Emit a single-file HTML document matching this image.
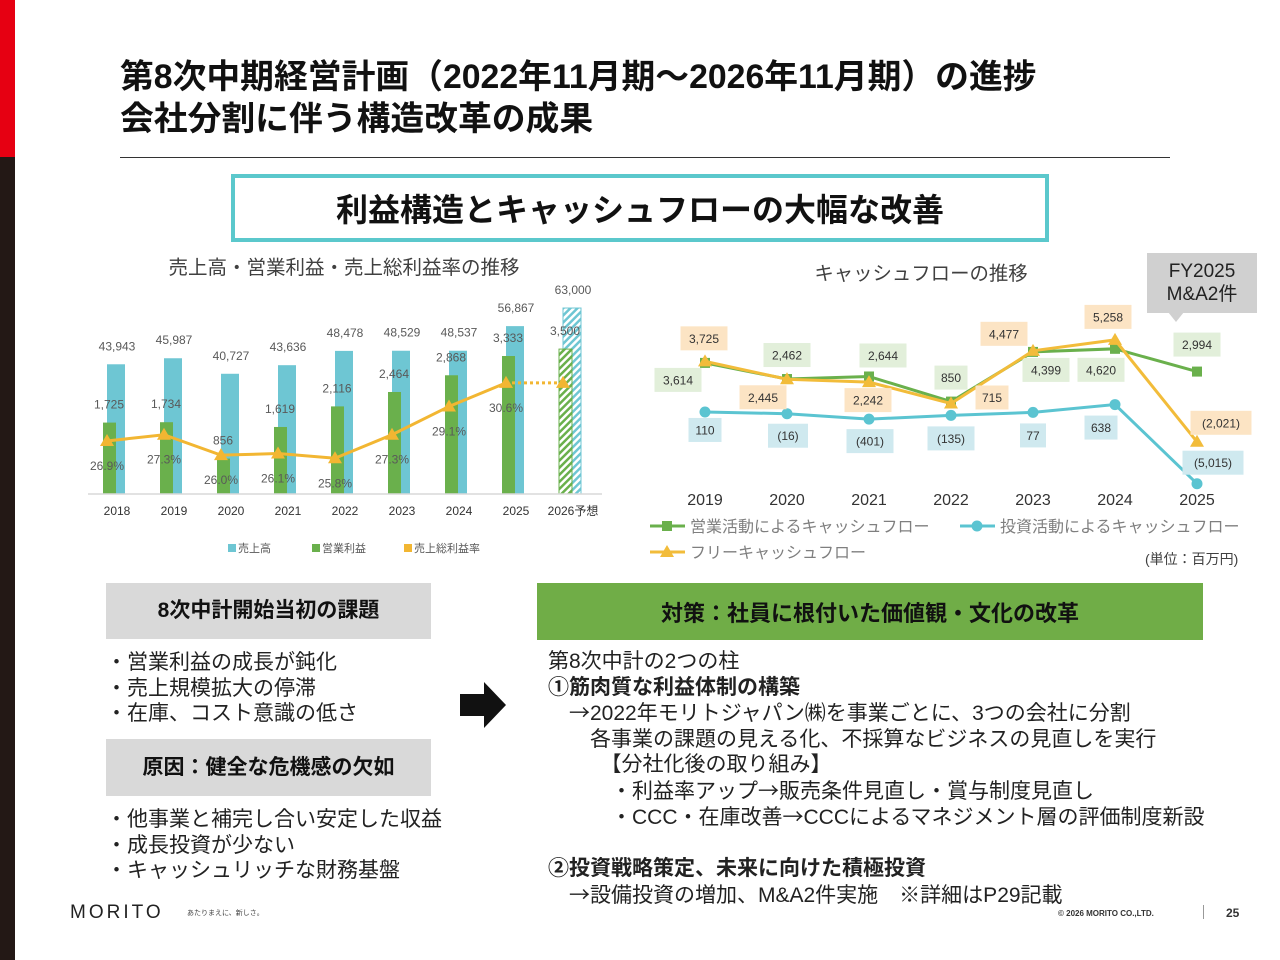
<!DOCTYPE html>
<html lang="ja"><head><meta charset="utf-8">
<style>
*{margin:0;padding:0;box-sizing:border-box}
body{width:1280px;height:960px;position:relative;background:#fff;overflow:hidden;font-family:"Liberation Sans","Noto Sans CJK JP",sans-serif;color:#222}
.abs{position:absolute;white-space:nowrap}
.title{font-weight:bold;font-size:33.8px;color:#111;line-height:42px}
.box{position:absolute;display:flex;align-items:center;justify-content:center;font-weight:bold}
.t20{font-size:21px;line-height:25.5px}
.ar{font-family:"Noto Sans CJK JP",sans-serif}
svg text{font-family:"Liberation Sans","Noto Sans CJK JP",sans-serif}
</style></head><body>
<div class="abs" style="left:0;top:0;width:15px;height:157px;background:#e60012"></div>
<div class="abs" style="left:0;top:157px;width:15px;height:803px;background:#231815"></div>
<div class="abs title" style="left:120px;top:56px">第8次中期経営計画（2022年11月期～2026年11月期）の進捗<br>会社分割に伴う構造改革の成果</div>
<div class="abs" style="left:120px;top:157px;width:1050px;height:1px;background:#333"></div>
<div class="box" style="left:231px;top:174px;width:818px;height:68px;border:4px solid #5bc8cc;font-size:32px;color:#111">利益構造とキャッシュフローの大幅な改善</div>

<svg id="charts" class="abs" style="left:0;top:0" width="1280" height="600">
<defs>
<pattern id="hatchB" width="5" height="5" patternUnits="userSpaceOnUse" patternTransform="rotate(45)"><rect width="5" height="5" fill="#fff"/><rect width="2.5" height="5" fill="#6ec6d3"/></pattern>
<pattern id="hatchG" width="5" height="5" patternUnits="userSpaceOnUse" patternTransform="rotate(45)"><rect width="5" height="5" fill="#fff"/><rect width="2.5" height="5" fill="#6ab04c"/></pattern>
</defs>
<g id="left"></g><g id="right"></g>
</svg>

<div class="abs" style="left:1147px;top:253px;width:110px;height:60px;background:#d0d0d0;font-size:19px;line-height:23px;text-align:center;padding-top:7px;color:#222">FY2025<br>M&amp;A2件</div>
<svg class="abs" style="left:1160px;top:312px" width="30" height="12"><polygon points="8,0 24,0 16,10" fill="#d0d0d0"/></svg>

<div class="box t20" style="left:106px;top:583px;width:325px;height:56px;background:#d9d9d9;color:#111">8次中計開始当初の課題</div>
<div class="abs t20" style="left:106px;top:650px">・営業利益の成長が鈍化<br>・売上規模拡大の停滞<br>・在庫、コスト意識の低さ</div>
<div class="box t20" style="left:106px;top:739px;width:325px;height:57px;background:#d9d9d9;color:#111">原因：健全な危機感の欠如</div>
<div class="abs t20" style="left:106px;top:807px">・他事業と補完し合い安定した収益<br>・成長投資が少ない<br>・キャッシュリッチな財務基盤</div>
<svg class="abs" style="left:458px;top:680px" width="50" height="50"><polygon points="2,14 26,14 26,2 48,25 26,48 26,36 2,36" fill="#111"/></svg>
<div class="box" style="left:537px;top:583px;width:666px;height:57px;background:#70ad47;color:#111;font-size:22px">対策：社員に根付いた価値観・文化の改革</div>
<div class="abs t20" style="left:548px;top:649px;line-height:25.5px">第8次中計の2つの柱<br><b>①筋肉質な利益体制の構築</b><br>　<span class="ar">→</span>2022年モリトジャパン㈱を事業ごとに、3つの会社に分割<br>　　各事業の課題の見える化、不採算なビジネスの見直しを実行<br>　　　【分社化後の取り組み】<br>　　　・利益率アップ<span class="ar">→</span>販売条件見直し・賞与制度見直し<br>　　　・CCC・在庫改善<span class="ar">→</span>CCCによるマネジメント層の評価制度新設<br><br><b>②投資戦略策定、未来に向けた積極投資</b><br>　<span class="ar">→</span>設備投資の増加、M&amp;A2件実施　※詳細はP29記載</div>

<div class="abs" style="left:70px;top:902px;font-size:19px;letter-spacing:3px;color:#222">MORITO</div>
<div class="abs" style="left:187px;top:908px;font-size:7px;color:#444">あたりまえに、新しさ。</div>
<div class="abs" style="left:1058px;top:909px;font-size:8px;font-weight:bold;color:#333">© 2026 MORITO CO.,LTD.</div>
<div class="abs" style="left:1203px;top:905px;width:1px;height:14px;background:#999"></div>
<div class="abs" style="left:1226px;top:906px;font-size:12px;font-weight:bold;color:#333">25</div>

<script>
// ---------- Left chart data ----------
const years = ["2018","2019","2020","2021","2022","2023","2024","2025","2026予想"];
const sales = [43943,45987,40727,43636,48478,48529,48537,56867,63000];
const opProfit = [1725,1734,856,1619,2116,2464,2868,3333,3500];
const grossMargin = [26.9,27.3,26.0,26.1,25.8,27.3,29.1,30.6,30.6];
// ---------- Right chart data ----------
const cfYears = ["2019","2020","2021","2022","2023","2024","2025"];
const opCF = [3614,2462,2644,850,4399,4620,2994];
const invCF = [110,-16,-401,-135,77,638,-5015];
const freeCF = [3725,2445,2242,715,4477,5258,-2021];

const NS="http://www.w3.org/2000/svg";
function mk(parent,tag,attrs,text){const e=document.createElementNS(NS,tag);for(const k in attrs)e.setAttribute(k,attrs[k]);if(text!==undefined)e.textContent=text;parent.appendChild(e);return e;}
const fmt=v=>v<0?"("+Math.abs(v).toLocaleString("en-US")+")":v.toLocaleString("en-US");

// ----- left chart -----
const L=document.getElementById("left");
const base=494;
const xL=i=>117+i*57;
const ySales=v=>base-v*0.002952;
const yOp=v=>base-v*0.0414;
const yPct=v=>441-(v-26.9)*15.7;
let t=mk(L,"text",{x:344,y:274,"font-size":19.5,"text-anchor":"middle",fill:"#404040"},"売上高・営業利益・売上総利益率の推移");


years.forEach((yr,i)=>{
  const c=xL(i), fc=i===years.length-1;
  let b=mk(L,"rect",{x:c-10,y:ySales(sales[i]),width:18,height:base-ySales(sales[i]),fill:fc?"url(#hatchB)":"#6ec6d3",stroke:fc?"#6ec6d3":"none","stroke-width":1});
  
  
  let g=mk(L,"rect",{x:c-14,y:yOp(opProfit[i]),width:13,height:base-yOp(opProfit[i]),fill:fc?"url(#hatchG)":"#6ab04c",stroke:fc?"#6ab04c":"none","stroke-width":1});
  
  
  let s=mk(L,"text",{x:c,y:ySales(sales[i])-14,"font-size":12,"text-anchor":"middle",fill:"#595959"},fmt(sales[i]));
  
  
  let o=mk(L,"text",{x:c-8,y:yOp(opProfit[i])-14,"font-size":12,"text-anchor":"middle",fill:"#595959"},fmt(opProfit[i]));
  
  
  let xl=mk(L,"text",{x:c,y:515,"font-size":12,"text-anchor":"middle",fill:"#333"},yr);
  
  
  if(!fc){
    let p=mk(L,"text",{x:c-10,y:yPct(grossMargin[i])+29,"font-size":12,"text-anchor":"middle",fill:"#595959"},grossMargin[i].toFixed(1)+"%");
    
    
  }
});
let ax=mk(L,"line",{x1:88,x2:602,y1:base,y2:base,stroke:"#d9d9d9","stroke-width":1.5});


const nS=grossMargin.length-1;
let pts=grossMargin.slice(0,nS).map((v,i)=>(xL(i)-10)+","+yPct(v)).join(" ");
let pl=mk(L,"polyline",{points:pts,fill:"none",stroke:"#f2b632","stroke-width":3});


let dl=mk(L,"line",{x1:xL(nS-1)-10,y1:yPct(grossMargin[nS-1]),x2:xL(nS)-10,y2:yPct(grossMargin[nS]),stroke:"#f2b632","stroke-width":3,"stroke-dasharray":"3,3"});


grossMargin.forEach((v,i)=>{
  const x=xL(i)-10,y=yPct(v);
  let tr=mk(L,"polygon",{points:`${x},${y-7} ${x-7},${y+5} ${x+7},${y+5}`,fill:"#f2b632"});
  
  
});
[["#6ec6d3","売上高",228],["#6ab04c","営業利益",312],["#f2b632","売上総利益率",404]].forEach(([col,lab,x])=>{
  let r=mk(L,"rect",{x:x,y:544,width:8,height:8,fill:col});
  
  
  let tx=mk(L,"text",{x:x+10,y:552,"font-size":11,fill:"#595959"},lab);
  
  
});

// ----- right chart -----
const R=document.getElementById("right");
const xR=i=>705+i*82;
const yR=v=>413.5-v*0.014;
let rt=mk(R,"text",{x:921,y:280,"font-size":19.4,"text-anchor":"middle",fill:"#404040"},"キャッシュフローの推移");


const opDx=[-27,0,14,0,13,-14,0], opDy=[17,-24,-21,-24,18,21,-27];
const fDx=[-1,-24,-1,41,-29,-7,24], fDy=[-23,18,18,-6,-17,-23,-19];
const iDx=[0,1,1,0,0,-14,16], iDy=[18,22,22,23,23,23,-21];
function series(vals,color,name,marker,dx,dy,bg){
  let p=mk(R,"polyline",{points:vals.map((v,i)=>xR(i)+","+yR(v)).join(" "),fill:"none",stroke:color,"stroke-width":3});
  
  
  vals.forEach((v,i)=>{
    const x=xR(i),y=yR(v);let m;
    if(marker==="sq")m=mk(R,"rect",{x:x-5,y:y-5,width:10,height:10,fill:color});
    else if(marker==="ci")m=mk(R,"circle",{cx:x,cy:y,r:5.5,fill:color});
    else m=mk(R,"polygon",{points:`${x},${y-7} ${x-7},${y+5} ${x+7},${y+5}`,fill:color});
    
    
    const lx=x+dx[i],ly=y+dy[i],s=fmt(v),w=s.length*7+12;
    let r=mk(R,"rect",{x:lx-w/2,y:ly-12,width:w,height:24,fill:bg});
    
    
    let tx=mk(R,"text",{x:lx,y:ly+4.5,"font-size":12,"text-anchor":"middle",fill:"#333"},s);
    
    
  });
}
series(invCF,"#5bc4d1","investing-cf","ci",iDx,iDy,"#cfe9ef");
series(opCF,"#6ab04c","operating-cf","sq",opDx,opDy,"#e2efda");
series(freeCF,"#f2bc3a","free-cf","tr",fDx,fDy,"#fce4c4");
cfYears.forEach((yr,i)=>{
  let t=mk(R,"text",{x:xR(i),y:505,"font-size":16,"text-anchor":"middle",fill:"#333"},yr);
  
  
});
[["#6ab04c","sq","営業活動によるキャッシュフロー",650,526],["#5bc4d1","ci","投資活動によるキャッシュフロー",960,526],["#f2bc3a","tr","フリーキャッシュフロー",650,552]].forEach(([col,mkr,lab,x,y])=>{
  let l=mk(R,"line",{x1:x,x2:x+35,y1:y,y2:y,stroke:col,"stroke-width":3});
  
  
  const cx=x+17;let m;
  if(mkr==="sq")m=mk(R,"rect",{x:cx-5,y:y-5,width:10,height:10,fill:col});
  else if(mkr==="ci")m=mk(R,"circle",{cx:cx,cy:y,r:5.5,fill:col});
  else m=mk(R,"polygon",{points:`${cx},${y-7} ${cx-7},${y+5} ${cx+7},${y+5}`,fill:col});
  
  
  let tx=mk(R,"text",{x:x+40,y:y+6,"font-size":16,fill:"#7f7f7f"},lab);
  
  
});
let u=mk(R,"text",{x:1145,y:564,"font-size":14,fill:"#404040"},"(単位：百万円)");


</script>
</body></html>
